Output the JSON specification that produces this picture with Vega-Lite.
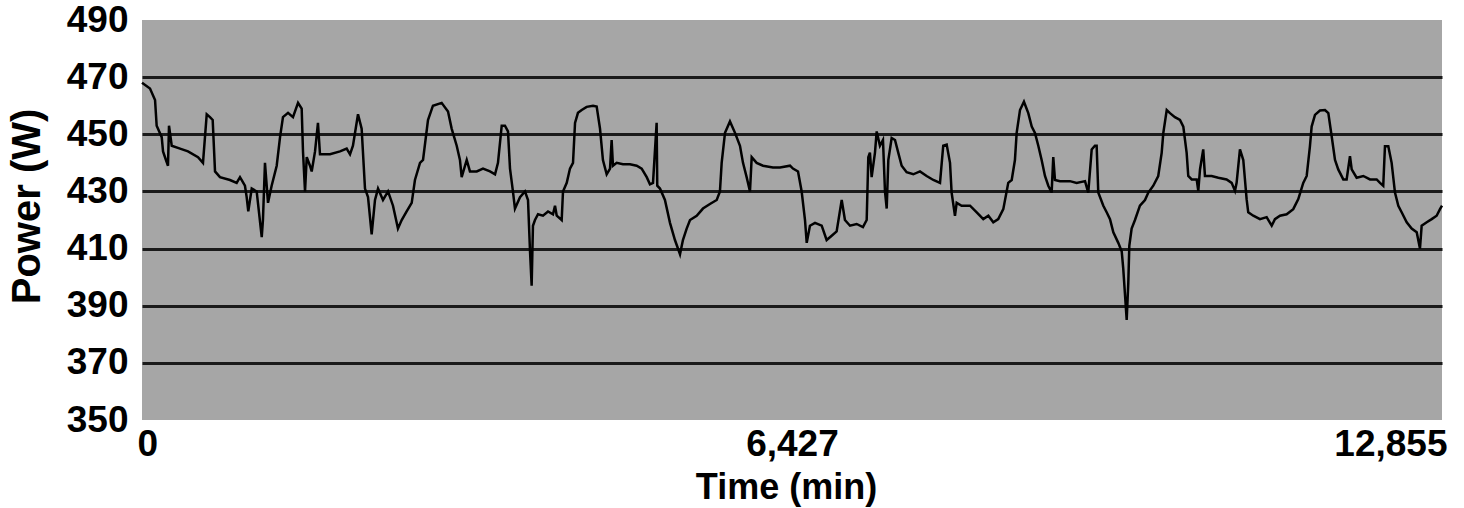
{
  "$schema": "https://vega.github.io/schema/vega-lite/v6.json",
  "width": 1300,
  "height": 400,
  "autosize": {"type": "none"},
  "padding": {"left": 142, "top": 20, "right": 22, "bottom": 88},
  "background": "white",
  "config": {"view": {"fill": "#a6a6a6", "stroke": null}, "font": "Liberation Sans"},
  "data": {"values": [
    {"t":0,"p":468},{"t":79,"p":466},{"t":129,"p":462},{"t":145,"p":453},{"t":195,"p":449},{"t":208,"p":444},{"t":237,"p":441},{"t":257,"p":439},{"t":267,"p":453},{"t":294,"p":446},{"t":376,"p":445},{"t":455,"p":444},{"t":554,"p":442},{"t":603,"p":440},{"t":640,"p":457},{"t":672,"p":456},{"t":699,"p":455},{"t":722,"p":437},{"t":771,"p":435},{"t":870,"p":434},{"t":936,"p":433},{"t":969,"p":435},{"t":1018,"p":432},{"t":1035,"p":428},{"t":1051,"p":423},{"t":1085,"p":431},{"t":1134,"p":430},{"t":1184,"p":414},{"t":1196,"p":420},{"t":1216,"p":440},{"t":1246,"p":426},{"t":1282,"p":432},{"t":1332,"p":439},{"t":1365,"p":449},{"t":1394,"p":456},{"t":1444,"p":457.5},{"t":1493,"p":456},{"t":1543,"p":461},{"t":1579,"p":459},{"t":1592,"p":444},{"t":1612,"p":430},{"t":1629,"p":442},{"t":1661,"p":439},{"t":1678,"p":437},{"t":1711,"p":444},{"t":1740,"p":454},{"t":1760,"p":443},{"t":1859,"p":443},{"t":1958,"p":444},{"t":2024,"p":445},{"t":2057,"p":443},{"t":2086,"p":446},{"t":2136,"p":457},{"t":2172,"p":452},{"t":2205,"p":431},{"t":2235,"p":428},{"t":2271,"p":415},{"t":2304,"p":427},{"t":2334,"p":431},{"t":2383,"p":427},{"t":2433,"p":430},{"t":2482,"p":425},{"t":2531,"p":417},{"t":2568,"p":420},{"t":2617,"p":423},{"t":2667,"p":426},{"t":2699,"p":434},{"t":2749,"p":440},{"t":2779,"p":441},{"t":2828,"p":455},{"t":2877,"p":460},{"t":2963,"p":461},{"t":3026,"p":458},{"t":3062,"p":452},{"t":3112,"p":446},{"t":3144,"p":441},{"t":3161,"p":435},{"t":3211,"p":441},{"t":3243,"p":437},{"t":3310,"p":437},{"t":3372,"p":438},{"t":3441,"p":437},{"t":3491,"p":436},{"t":3520,"p":440},{"t":3557,"p":453},{"t":3589,"p":453},{"t":3619,"p":451},{"t":3639,"p":438},{"t":3668,"p":430},{"t":3688,"p":424},{"t":3738,"p":428},{"t":3787,"p":430},{"t":3817,"p":427},{"t":3837,"p":409},{"t":3853,"p":397},{"t":3866,"p":418},{"t":3886,"p":420},{"t":3916,"p":422},{"t":3965,"p":421.5},{"t":4015,"p":423},{"t":4064,"p":422},{"t":4084,"p":425},{"t":4101,"p":421.5},{"t":4150,"p":420},{"t":4163,"p":430},{"t":4200,"p":433},{"t":4232,"p":438},{"t":4262,"p":440},{"t":4282,"p":454},{"t":4311,"p":457.5},{"t":4348,"p":458.5},{"t":4397,"p":459.6},{"t":4460,"p":460},{"t":4496,"p":459.7},{"t":4529,"p":452},{"t":4558,"p":441},{"t":4595,"p":436},{"t":4628,"p":438},{"t":4644,"p":448},{"t":4657,"p":439},{"t":4694,"p":440},{"t":4756,"p":439.5},{"t":4825,"p":439.5},{"t":4892,"p":439},{"t":4941,"p":438},{"t":4991,"p":435},{"t":5023,"p":432.5},{"t":5053,"p":433},{"t":5089,"p":454},{"t":5095,"p":432},{"t":5122,"p":431},{"t":5171,"p":427},{"t":5221,"p":419},{"t":5270,"p":413},{"t":5320,"p":408},{"t":5349,"p":413},{"t":5386,"p":417},{"t":5419,"p":420},{"t":5485,"p":421.5},{"t":5547,"p":424},{"t":5616,"p":425.6},{"t":5683,"p":427},{"t":5715,"p":430},{"t":5732,"p":440},{"t":5765,"p":450.5},{"t":5814,"p":454.5},{"t":5864,"p":450.5},{"t":5913,"p":446},{"t":5943,"p":440},{"t":5979,"p":435},{"t":6012,"p":430},{"t":6029,"p":442},{"t":6078,"p":440},{"t":6141,"p":439},{"t":6239,"p":438.4},{"t":6309,"p":438.4},{"t":6408,"p":439},{"t":6437,"p":438},{"t":6487,"p":437},{"t":6523,"p":430},{"t":6556,"p":420},{"t":6573,"p":412},{"t":6605,"p":418},{"t":6655,"p":419},{"t":6721,"p":418},{"t":6770,"p":413},{"t":6820,"p":414.5},{"t":6869,"p":416},{"t":6919,"p":427},{"t":6951,"p":420},{"t":7001,"p":418},{"t":7067,"p":418.6},{"t":7129,"p":417.5},{"t":7166,"p":420},{"t":7182,"p":442},{"t":7198,"p":443.6},{"t":7215,"p":435},{"t":7248,"p":443.6},{"t":7265,"p":451},{"t":7297,"p":446},{"t":7327,"p":448},{"t":7347,"p":430},{"t":7364,"p":424},{"t":7380,"p":441},{"t":7413,"p":448.7},{"t":7446,"p":448},{"t":7478,"p":443.6},{"t":7512,"p":439},{"t":7561,"p":436.7},{"t":7627,"p":436},{"t":7693,"p":437},{"t":7759,"p":435.4},{"t":7825,"p":434},{"t":7891,"p":433},{"t":7923,"p":446},{"t":7957,"p":446.4},{"t":7990,"p":440},{"t":8006,"p":429.6},{"t":8039,"p":421.5},{"t":8056,"p":426},{"t":8105,"p":425},{"t":8188,"p":425},{"t":8254,"p":422.7},{"t":8319,"p":420.3},{"t":8369,"p":421.5},{"t":8418,"p":419.2},{"t":8467,"p":420.3},{"t":8517,"p":423.8},{"t":8566,"p":433},{"t":8600,"p":434},{"t":8632,"p":441},{"t":8649,"p":450.5},{"t":8682,"p":458.5},{"t":8721,"p":461.4},{"t":8764,"p":457.4},{"t":8798,"p":452.7},{"t":8830,"p":450.5},{"t":8863,"p":446},{"t":8896,"p":441},{"t":8929,"p":435.4},{"t":8962,"p":432},{"t":8995,"p":429.6},{"t":9011,"p":442},{"t":9028,"p":434},{"t":9077,"p":433.6},{"t":9176,"p":433.6},{"t":9242,"p":433},{"t":9325,"p":433.6},{"t":9357,"p":429.6},{"t":9391,"p":444.7},{"t":9423,"p":446},{"t":9440,"p":446},{"t":9456,"p":429.6},{"t":9506,"p":425},{"t":9539,"p":422.7},{"t":9572,"p":420.3},{"t":9605,"p":415.7},{"t":9654,"p":412},{"t":9688,"p":409},{"t":9703,"p":403},{"t":9720,"p":394},{"t":9737,"p":385},{"t":9753,"p":398},{"t":9763,"p":411},{"t":9786,"p":417},{"t":9819,"p":420},{"t":9868,"p":425},{"t":9918,"p":427},{"t":9951,"p":429.6},{"t":10000,"p":432},{"t":10049,"p":435.4},{"t":10083,"p":443.5},{"t":10099,"p":450.4},{"t":10133,"p":458.5},{"t":10165,"p":457.4},{"t":10214,"p":456},{"t":10264,"p":455},{"t":10297,"p":452.7},{"t":10330,"p":443.5},{"t":10346,"p":435.4},{"t":10380,"p":434.2},{"t":10429,"p":434.2},{"t":10445,"p":430.2},{"t":10462,"p":437.7},{"t":10494,"p":444.7},{"t":10511,"p":435.4},{"t":10577,"p":435.4},{"t":10643,"p":434.8},{"t":10725,"p":434.2},{"t":10775,"p":433},{"t":10808,"p":430.2},{"t":10824,"p":433},{"t":10857,"p":444.7},{"t":10890,"p":441},{"t":10923,"p":427.3},{"t":10939,"p":422.7},{"t":10989,"p":421.5},{"t":11055,"p":420.3},{"t":11121,"p":421},{"t":11171,"p":418},{"t":11203,"p":420.3},{"t":11253,"p":421.5},{"t":11319,"p":422},{"t":11384,"p":423.8},{"t":11434,"p":427.3},{"t":11483,"p":433},{"t":11517,"p":435.4},{"t":11549,"p":445.8},{"t":11566,"p":452.7},{"t":11599,"p":456.8},{"t":11648,"p":458.3},{"t":11698,"p":458.5},{"t":11731,"p":457.4},{"t":11764,"p":449.3},{"t":11797,"p":441},{"t":11829,"p":437.7},{"t":11879,"p":434.2},{"t":11912,"p":434.2},{"t":11945,"p":442.3},{"t":11962,"p":437.7},{"t":12011,"p":434.8},{"t":12077,"p":435.4},{"t":12143,"p":434.2},{"t":12209,"p":434.2},{"t":12242,"p":433},{"t":12274,"p":432},{"t":12291,"p":445.8},{"t":12324,"p":445.8},{"t":12357,"p":440},{"t":12390,"p":429.6},{"t":12423,"p":425},{"t":12456,"p":422.7},{"t":12506,"p":419.2},{"t":12555,"p":417},{"t":12605,"p":415.7},{"t":12637,"p":410},{"t":12654,"p":418},{"t":12704,"p":419.2},{"t":12753,"p":420.3},{"t":12802,"p":421.5},{"t":12835,"p":423.8},{"t":12855,"p":425}
  ]},
  "mark": {"type": "line", "color": "black", "strokeWidth": 2.5, "strokeJoin": "miter"},
  "encoding": {
    "x": {
      "field": "t", "type": "quantitative",
      "scale": {"domain": [0, 12855], "nice": false, "zero": false},
      "axis": {
        "values": [0, 6427, 12855], "format": ",d", "title": "Time (min)",
        "grid": false, "ticks": false, "domain": false,
        "labelFlush": true, "labelFlushOffset": 5,
        "labelFont": "Liberation Sans", "labelFontSize": 37, "labelFontWeight": "bold", "labelColor": "black", "labelPadding": 6,
        "titleFont": "Liberation Sans", "titleFontSize": 36, "titleFontWeight": "bold", "titleColor": "black",
        "titleX": 644, "titleY": 78, "titleBaseline": "alphabetic"
      }
    },
    "y": {
      "field": "p", "type": "quantitative",
      "scale": {"domain": [350, 490], "nice": false, "zero": false},
      "axis": {
        "values": [350, 370, 390, 410, 430, 450, 470, 490], "title": "Power (W)",
        "grid": true, "gridColor": "#1a1a1a", "gridWidth": 3,
        "gridOpacity": {"condition": {"test": "datum.value == 350 || datum.value == 490", "value": 0}, "value": 1},
        "ticks": false, "domain": false,
        "labelFont": "Liberation Sans", "labelFontSize": 37, "labelFontWeight": "bold", "labelColor": "black", "labelPadding": 14,
        "titleFont": "Liberation Sans", "titleFontSize": 40, "titleFontWeight": "bold", "titleColor": "black",
        "titleX": -103, "titleY": 186, "titleBaseline": "alphabetic", "titleAngle": -90
      }
    }
  }
}
